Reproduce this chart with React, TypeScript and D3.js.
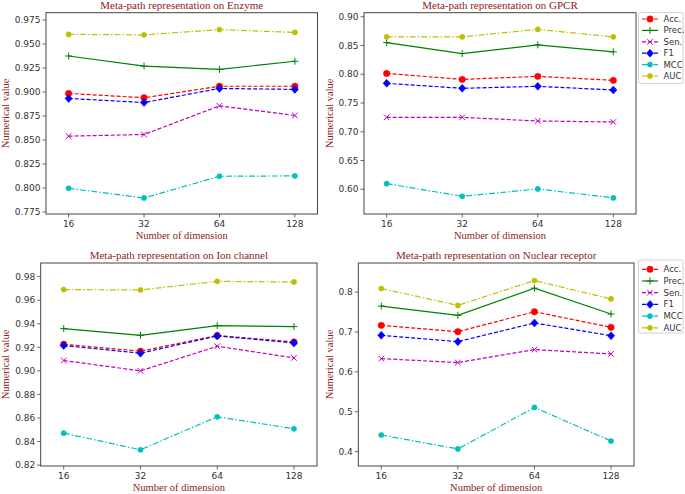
import React from "react";
import * as d3 from "d3";

const dims = ["16", "32", "64", "128"];
const metricNames = ["Acc.", "Prec.", "Sen.", "F1", "MCC", "AUC"];
const metricColors = ["#ff0000", "#008000", "#bf00bf", "#0000ff", "#00bfbf", "#bfbf00"];
const metricDash = ["4,2", "none", "4,2", "4,2", "6,2,1.5,2", "6,2,1.5,2"];
const metricMarkers = ["o", "+", "x", "D", "c", "c"];

// rows: Acc, Prec, Sen, F1, MCC, AUC
const enzymeValues = [
  [0.8985, 0.894, 0.906, 0.906],
  [0.9375, 0.927, 0.9235, 0.932],
  [0.854, 0.8557, 0.8856, 0.8755],
  [0.8933, 0.889, 0.9037, 0.9027],
  [0.7997, 0.7896, 0.8122, 0.8126],
  [0.96, 0.9595, 0.965, 0.962],
];
const gpcrValues = [
  [0.8015, 0.791, 0.7963, 0.7894],
  [0.855, 0.836, 0.851, 0.839],
  [0.725, 0.725, 0.7187, 0.717],
  [0.7842, 0.7755, 0.779, 0.7726],
  [0.6098, 0.5878, 0.6006, 0.585],
  [0.865, 0.865, 0.878, 0.865],
];
const ionValues = [
  [0.9226, 0.9167, 0.930, 0.9246],
  [0.9359, 0.9302, 0.9384, 0.9376],
  [0.9088, 0.900, 0.9209, 0.911],
  [0.9215, 0.915, 0.9297, 0.9237],
  [0.8471, 0.833, 0.861, 0.8508],
  [0.969, 0.9687, 0.976, 0.9755],
];
const nuclearValues = [
  [0.7167, 0.7008, 0.7508, 0.7117],
  [0.765, 0.7417, 0.81, 0.745],
  [0.6333, 0.6233, 0.6558, 0.645],
  [0.6917, 0.6758, 0.7225, 0.6908],
  [0.4417, 0.4067, 0.5108, 0.4267],
  [0.809, 0.7667, 0.829, 0.783],
];

const enzymeTicks = [0.775, 0.8, 0.825, 0.85, 0.875, 0.9, 0.925, 0.95, 0.975];
const gpcrTicks = [0.6, 0.65, 0.7, 0.75, 0.8, 0.85, 0.9];
const ionTicks = [0.82, 0.84, 0.86, 0.88, 0.9, 0.92, 0.94, 0.96, 0.98];
const nuclearTicks = [0.4, 0.5, 0.6, 0.7, 0.8];

const enzymeDomain = [0.7729, 0.9826];
const gpcrDomain = [0.557, 0.907];
const ionDomain = [0.8192, 0.9916];
const nuclearDomain = [0.364, 0.873];

const titleColor = "#8b1c1c";
const tickColor = "#333";
const serif = "'Liberation Serif', 'Times New Roman', serif";
const sans = "'DejaVu Sans', sans-serif";

function Marker({ kind, x, y, color }: any) {
  if (kind === "o") return <circle cx={x} cy={y} r={3.2} fill={color} stroke={color} strokeWidth={0.5} />;
  if (kind === "c") return <circle cx={x} cy={y} r={2.6} fill={color} stroke={color} strokeWidth={0.5} />;
  if (kind === "D")
    return (
      <path d={`M${x},${y - 4}L${x + 3.6},${y}L${x},${y + 4}L${x - 3.6},${y}Z`} fill={color} stroke={color} strokeWidth={0.5} />
    );
  if (kind === "+")
    return (
      <path d={`M${x - 3.5},${y}H${x + 3.5}M${x},${y - 3.5}V${y + 3.5}`} stroke={color} strokeWidth={1} fill="none" />
    );
  return (
    <path d={`M${x - 2.8},${y - 2.8}L${x + 2.8},${y + 2.8}M${x - 2.8},${y + 2.8}L${x + 2.8},${y - 2.8}`} stroke={color} strokeWidth={1} fill="none" />
  );
}

function Legend({ x, y, w, h, first, step }: any) {
  return (
    <g>
      <rect x={x} y={y} width={w} height={h} fill="#fff" stroke="#d0d0d0" strokeWidth={1} rx={2} />
      {metricNames.map((name, i) => {
        const cy = first + i * step;
        return (
          <g key={name}>
            <line
              x1={x + 3.5}
              x2={x + 19.5}
              y1={cy}
              y2={cy}
              stroke={metricColors[i]}
              strokeWidth={1.2}
              strokeDasharray={metricDash[i]}
            />
            <Marker kind={metricMarkers[i]} x={x + 11.5} y={cy} color={metricColors[i]} />
            <text x={x + 25} y={cy + 3} fontFamily={sans} fontSize={8.5} fill={tickColor}>
              {name}
            </text>
          </g>
        );
      })}
    </g>
  );
}

function Panel({ title, values, ticks, domain, left, right, top, bottom, decimals, ylabelX, titleY, legend }: any) {
  const x = d3.scalePoint<string>().domain(dims).range([left, right]).padding(0.3);
  const y = d3.scaleLinear().domain(domain).range([bottom, top]);
  const fmt = d3.format(`.${decimals}f`);
  const line = d3
    .line<number>()
    .x((_, i) => x(dims[i]) as number)
    .y((d) => y(d));
  const cx = (left + right) / 2;
  return (
    <g>
      <text x={cx} y={titleY} textAnchor="middle" fontFamily={serif} fontSize={11} fill={titleColor}>
        {title}
      </text>
      {values.map((vals: number[], i: number) => (
        <g key={i}>
          <path
            d={line(vals) as string}
            fill="none"
            stroke={metricColors[i]}
            strokeWidth={1.2}
            strokeDasharray={metricDash[i]}
          />
          {vals.map((v, j) => (
            <Marker key={j} kind={metricMarkers[i]} x={x(dims[j])} y={y(v)} color={metricColors[i]} />
          ))}
        </g>
      ))}
      <rect x={left} y={top} width={right - left} height={bottom - top} fill="none" stroke="#444" strokeWidth={1} />
      {ticks.map((t: number) => (
        <g key={t}>
          <line x1={left - 3.5} x2={left} y1={y(t)} y2={y(t)} stroke="#444" strokeWidth={0.8} />
          <text x={left - 5.5} y={y(t) + 3.2} textAnchor="end" fontFamily={sans} fontSize={9} fill={tickColor}>
            {fmt(t)}
          </text>
        </g>
      ))}
      {dims.map((d) => (
        <g key={d}>
          <line x1={x(d)} x2={x(d)} y1={bottom} y2={bottom + 3.5} stroke="#444" strokeWidth={0.8} />
          <text x={x(d)} y={bottom + 13} textAnchor="middle" fontFamily={sans} fontSize={9} fill={tickColor}>
            {d}
          </text>
        </g>
      ))}
      <text x={cx} y={bottom + 25} textAnchor="middle" fontFamily={serif} fontSize={10.5} fill={titleColor}>
        Number of dimension
      </text>
      <text
        transform={`translate(${ylabelX},${(top + bottom) / 2}) rotate(-90)`}
        textAnchor="middle"
        fontFamily={serif}
        fontSize={10.5}
        fill={titleColor}
      >
        Numerical value
      </text>
      {legend}
    </g>
  );
}

export default function App() {
  return (
    <svg
      width={685}
      height={494}
      style={{ position: "absolute", left: 0, top: 0, background: "#fff" }}
    >
      <rect width={685} height={494} fill="#fff" />
      <Panel
        title="Meta-path representation on Enzyme"
        values={enzymeValues}
        ticks={enzymeTicks}
        domain={enzymeDomain}
        decimals={3}
        left={46}
        right={317.5}
        top={12.7}
        bottom={214}
        ylabelX={9}
        titleY={9}
      />
      <Panel
        title="Meta-path representation on GPCR"
        values={gpcrValues}
        ticks={gpcrTicks}
        domain={gpcrDomain}
        decimals={2}
        left={364}
        right={636}
        top={12.7}
        bottom={214}
        ylabelX={333}
        titleY={9}
        legend={<Legend x={638.5} y={12.5} w={44.5} h={71} first={19} step={11.4} />}
      />
      <Panel
        title="Meta-path representation on Ion channel"
        values={ionValues}
        ticks={ionTicks}
        domain={ionDomain}
        decimals={2}
        left={40.7}
        right={317}
        top={263}
        bottom={466}
        ylabelX={9}
        titleY={259}
      />
      <Panel
        title="Meta-path representation on Nuclear receptor"
        values={nuclearValues}
        ticks={nuclearTicks}
        domain={nuclearDomain}
        decimals={1}
        left={358.3}
        right={634}
        top={263}
        bottom={466}
        ylabelX={333}
        titleY={259}
        legend={<Legend x={638.5} y={260} w={44.5} h={73} first={269.3} step={11.7} />}
      />
    </svg>
  );
}
